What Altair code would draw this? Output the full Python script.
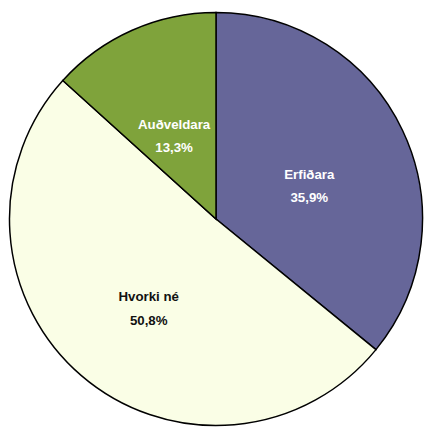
import altair as alt
import pandas as pd

categories = ["Erfiðara", "Hvorki né", "Auðveldara"]
values = [35.9, 50.8, 13.3]
colors = ["#666699", "#FAFEE6", "#7FA33B"]

labels = [f"{c}\n{v:.1f}".replace(".", ",") + "%" for c, v in zip(categories, values)]
df = pd.DataFrame({
    "category": categories,
    "value": values,
    "label": labels,
    "order": list(range(len(categories))),
})

base = alt.Chart(df).encode(
    theta=alt.Theta("value:Q", stack=True),
    order=alt.Order("order:Q"),
)

pie = base.mark_arc(radius=210, stroke="black", strokeWidth=1.5).encode(
    color=alt.Color("category:N", scale=alt.Scale(domain=categories, range=colors), legend=None)
)

text = base.mark_text(
    radius=105, font="Liberation Sans", fontSize=13.5, fontWeight="bold",
    lineBreak="\n", lineHeight=24, align="center", baseline="middle"
).encode(
    text="label:N",
    color=alt.condition(alt.datum.category == "Hvorki né", alt.value("#111111"), alt.value("white")),
)

chart = (pie + text).properties(
    width=423, height=422, padding=0, autosize=alt.AutoSizeParams(type="none")
).configure_view(stroke=None)

chart.save("out.html", embed_options={"renderer": "svg", "actions": False})
